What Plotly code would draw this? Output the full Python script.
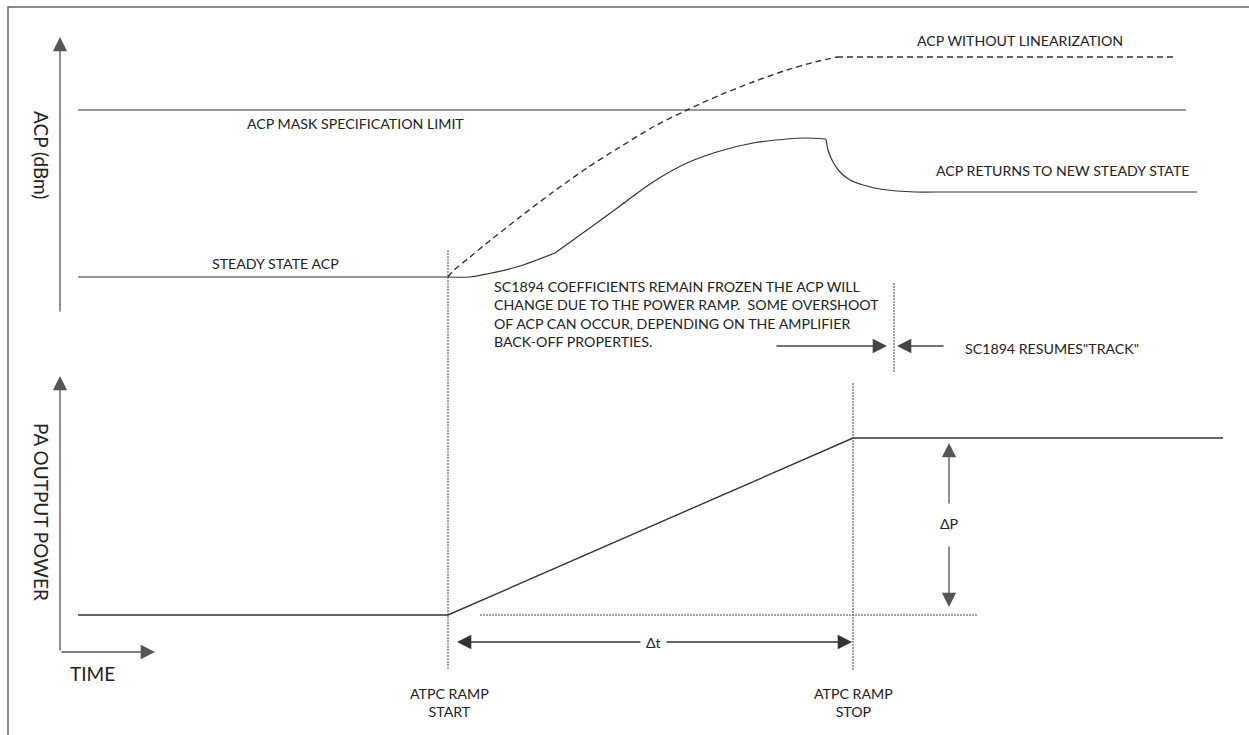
import plotly.graph_objects as go

# ---- schematic data (pixel-like coordinates: x = time, y = screen-down) ----
frame_x = [8, 8, 1249]
frame_y = [735, 7, 7]

mask_x = [78, 1186]
mask_y = [110, 110]

steady_x = [78, 448]
steady_y = [277, 277]

# ACP with linearization, in smooth pieces
acp_rise1_x = [448, 470, 487, 520, 555]
acp_rise1_y = [277, 277, 274, 266, 253]
acp_rise2_x = [555, 587, 620, 653, 687, 720, 753, 787, 805, 826]
acp_rise2_y = [253, 230, 206, 182, 163, 151, 143, 139, 138, 139]
acp_fall_x = [826, 828, 833, 840, 850, 863, 880, 897, 915, 937]
acp_fall_y = [139, 150, 162, 172, 180, 185, 189, 191, 192, 192]
acp_new_x = [937, 1197]
acp_new_y = [192, 192]

acp_nolin_x = [448, 453, 470, 487, 520, 553, 587, 620, 653, 687, 720, 753, 787, 815, 837]
acp_nolin_y = [277, 271, 257, 243, 217, 192, 168, 147, 127, 110, 95, 82, 70, 62, 57]
acp_nolin_flat_x = [837, 1173]
acp_nolin_flat_y = [57, 57]

pa_x = [78, 448, 853, 1223]
pa_y = [615, 615, 438, 438]

ref_x = [480, 978]
ref_y = [615, 615]

vlines = [  # (x, y_top, y_bottom)
    (448, 250, 670),
    (853, 383, 670),
    (894, 283, 373),
]

# arrows: (tail_x, tail_y, tip_x, tip_y, colour)
arrows = [
    (60, 313, 60, 37, "#555555"),
    (60, 652, 60, 376, "#555555"),
    (60, 652, 155, 652, "#555555"),
    (642, 642, 457, 642, "#333333"),
    (665, 642, 852, 642, "#333333"),
    (949, 505, 949, 443, "#555555"),
    (949, 545, 949, 607, "#555555"),
    (775, 346, 887, 346, "#444444"),
    (945, 346, 897, 346, "#444444"),
]

labels = [  # (x, y, text, size)
    (355, 123, "ACP MASK SPECIFICATION LIMIT", 14.2),
    (275, 263, "STEADY STATE ACP", 14.2),
    (1020, 40, "ACP WITHOUT LINEARIZATION", 14.2),
    (1062, 170, "ACP RETURNS TO NEW STEADY STATE", 14.2),
    (1052, 348, "SC1894 RESUMES\"TRACK\"", 14.2),
    (653, 642, "Δt", 14.2),
    (949, 523, "ΔP", 14.2),
    (92, 673, "TIME", 19),
    (449, 702, "ATPC RAMP<br>START", 14.2),
    (853, 702, "ATPC RAMP<br>STOP", 14.2),
]

paragraph = ("SC1894 COEFFICIENTS REMAIN FROZEN THE ACP WILL<br>"
             "CHANGE DUE TO THE POWER RAMP.  SOME OVERSHOOT<br>"
             "OF ACP CAN OCCUR, DEPENDING ON THE AMPLIFIER<br>"
             "BACK-OFF PROPERTIES.")
paragraph_pos = (492, 314)

axis_titles = [  # (x, y, text)
    (42, 155, "ACP (dBm)"),
    (42, 512, "PA OUTPUT POWER"),
]

FONT = "Lato"
TXT = "#222222"

fig = go.Figure()

def line(x, y, color="#333333", width=1.2, dash="solid", shape="linear"):
    fig.add_trace(go.Scatter(x=x, y=y, mode="lines", hoverinfo="skip",
                             line=dict(color=color, width=width, dash=dash,
                                       shape=shape, smoothing=0.8),
                             showlegend=False))

line(frame_x, frame_y, "#666666", 1.5)
line(mask_x, mask_y, "#333333", 1.2)
line(steady_x, steady_y, "#333333", 1.2)
line(acp_rise1_x, acp_rise1_y, "#333333", 1.2, shape="spline")
line(acp_rise2_x, acp_rise2_y, "#333333", 1.2, shape="spline")
line(acp_fall_x, acp_fall_y, "#333333", 1.2, shape="spline")
line(acp_new_x, acp_new_y, "#333333", 1.2)
line(acp_nolin_x, acp_nolin_y, "#333333", 1.4, "6px,4px", shape="spline")
line(acp_nolin_flat_x, acp_nolin_flat_y, "#333333", 1.4, "6px,4px")
line(pa_x, pa_y, "#333333", 1.4)
line(ref_x, ref_y, "#444444", 1, "2px,1px")
for vx, y0, y1 in vlines:
    line([vx, vx], [y0, y1], "#444444", 1, "2px,1px")

for tx, ty, hx, hy, col in arrows:
    fig.add_annotation(x=hx, y=hy, ax=tx, ay=ty, xref="x", yref="y",
                       axref="x", ayref="y", text="", showarrow=True,
                       arrowhead=2, arrowsize=2.2, arrowwidth=1.3,
                       arrowcolor=col, standoff=0, startstandoff=0)

for lx, ly, txt, sz in labels:
    fig.add_annotation(x=lx, y=ly, text=txt, showarrow=False, xref="x", yref="y",
                       xanchor="center", yanchor="middle", align="center",
                       font=dict(family=FONT, size=sz, color=TXT))

fig.add_annotation(x=paragraph_pos[0], y=paragraph_pos[1], text=paragraph,
                   showarrow=False, xref="x", yref="y", xanchor="left",
                   yanchor="middle", align="left",
                   font=dict(family=FONT, size=14.2, color=TXT))

for ax_x, ax_y, txt in axis_titles:
    fig.add_annotation(x=ax_x, y=ax_y, text=txt, showarrow=False, xref="x",
                       yref="y", textangle=90, xanchor="center", yanchor="middle",
                       font=dict(family=FONT, size=19, color=TXT))

fig.update_layout(
    width=1249, height=735,
    margin=dict(l=0, r=0, t=0, b=0),
    paper_bgcolor="white", plot_bgcolor="white",
    xaxis=dict(range=[0, 1249], visible=False, fixedrange=True),
    yaxis=dict(range=[735, 0], visible=False, fixedrange=True),
    showlegend=False,
)

fig.write_html("out.html", config={"displayModeBar": False},
               post_script="document.body.style.margin='0px';")
